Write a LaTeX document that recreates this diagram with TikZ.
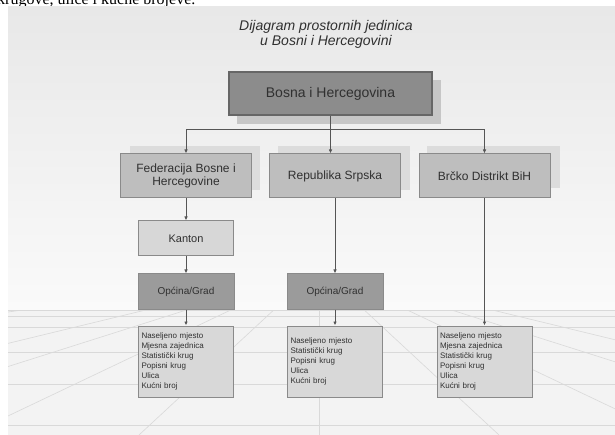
\documentclass[tikz,border=0pt]{standalone}
\usepackage{fontspec}
\setmainfont{Liberation Sans}
\newfontfamily\pageserif{Liberation Serif}
\usetikzlibrary{arrows.meta}

\definecolor{panelTop}{HTML}{E8E8E8}
\definecolor{panelBot}{HTML}{FAFAFA}
\definecolor{floorGray}{HTML}{F3F3F3}
\definecolor{gridGray}{HTML}{D9D9D9}
\definecolor{inkGray}{HTML}{303030}
\definecolor{lineGray}{HTML}{555555}
\definecolor{topFill}{HTML}{8C8C8C}
\definecolor{topBorder}{HTML}{666666}
\definecolor{topShadow}{HTML}{C6C6C6}
\definecolor{stateFill}{HTML}{BEBEBE}
\definecolor{stateShadow}{HTML}{DCDCDC}
\definecolor{midBorder}{HTML}{8A8A8A}
\definecolor{kantonFill}{HTML}{D7D7D7}
\definecolor{opcFill}{HTML}{9B9B9B}
\definecolor{listFill}{HTML}{D8D8D8}

\begin{document}
\begin{tikzpicture}[x=1pt,y=-1pt,
    topbox/.style={draw=topBorder, line width=1.5pt, fill=topFill, text=inkGray,
      minimum width=203pt, minimum height=43pt, font=\fontsize{14}{16}\selectfont},
    statebox/.style={draw=midBorder, line width=1pt, fill=stateFill, text=inkGray, align=center,
      minimum width=131pt, minimum height=44pt, font=\fontsize{12}{13}\selectfont},
    kantonbox/.style={draw=midBorder, line width=1pt, fill=kantonFill, text=inkGray,
      minimum width=95pt, minimum height=35pt, font=\fontsize{11}{12}\selectfont},
    opcbox/.style={draw=midBorder, line width=1pt, fill=opcFill, text=inkGray,
      minimum width=96pt, minimum height=35pt, font=\fontsize{10}{11}\selectfont},
    listbox/.style={draw=midBorder, line width=1pt, fill=listFill, text=inkGray, align=left,
      text width=89pt, inner xsep=3pt, minimum height=71pt, font=\fontsize{8}{10}\selectfont},
    link/.style={draw=lineGray, line width=0.9pt},
    arr/.style={link, -{Latex[length=4pt,width=3.5pt]}},
    grid/.style={draw=gridGray, line width=0.6pt}]
\useasboundingbox (0,0) rectangle (615,435);

% page text cut off above the figure
\begin{scope}
    \clip (0,0) rectangle (615,7);
    \node[anchor=base west, inner sep=0, font=\pageserif\fontsize{16}{16}\selectfont] (pagetext) at (-3,4.5) {krugove, ulice i kućne brojeve.};
\end{scope}

% panel and floor
\shade[top color=panelTop, bottom color=panelBot] (8,7) rectangle (615,310);
\fill[floorGray] (8,310) rectangle (615,435);
\begin{scope}
    \clip (8,310) rectangle (615,435);
    \foreach \dx in {-1180,-689,-527,-351,-180,0,180,351,527,689,1180}
        \draw[grid] (319,268) -- (319+\dx,435);
    \foreach \gy in {310,316,327,352,384,425}
        \draw[grid] (8,\gy) -- (615,\gy);
\end{scope}

% title
\node[align=center, text=inkGray, font=\itshape\fontsize{14}{15}\selectfont] (title) at (326,34.5)
    {Dijagram prostornih jedinica\\u Bosni i Hercegovini};

% shadows
\fill[topShadow] (237,80) rectangle (441,124);
\fill[stateShadow] (130,146) rectangle (260,190);
\fill[stateShadow] (278,146) rectangle (410,190);
\fill[stateShadow] (427,146) rectangle (560,188);

% boxes
\node[topbox] (bih) at (330.5,93.5) {Bosna i Hercegovina};
\node[statebox] (fed) at (186,176) {Federacija Bosne i\\Hercegovine};
\node[statebox] (rs) at (335,176) {Republika Srpska};
\node[statebox] (brcko) at (484.5,176) {Brčko Distrikt BiH};
\node[kantonbox] (kanton) at (186,238.5) {Kanton};
\node[opcbox] (opcfed) at (186,291.5) {Općina/Grad};
\node[opcbox] (opcrs) at (335,291.5) {Općina/Grad};
\node[listbox] (listfed) at (186,361.5) {Naseljeno mjesto\\Mjesna zajednica\\Statistički krug\\Popisni krug\\Ulica\\Kućni broj};
\node[listbox] (listrs) at (335,361.5) {Naseljeno mjesto\\Statistički krug\\Popisni krug\\Ulica\\Kućni broj};
\node[listbox] (listbrcko) at (484.5,361.5) {Naseljeno mjesto\\Mjesna zajednica\\Statistički krug\\Popisni krug\\Ulica\\Kućni broj};

% connectors
\coordinate (bus) at (bih.south |- 0,129);
\draw[link] (bih.south) -- (bus);
\draw[arr] (bus) -| (fed.north);
\draw[arr] (bus) -- (bus |- rs.north);
\draw[arr] (bus) -| (brcko.north);
\draw[arr] (fed) -- (kanton);
\draw[arr] (kanton) -- (opcfed);
\draw[arr] (opcfed) -- (listfed);
\draw[arr] (rs) -- (opcrs);
\draw[arr] (opcrs) -- (listrs);
\draw[arr] (brcko) -- (listbrcko);
\end{tikzpicture}
\end{document}
